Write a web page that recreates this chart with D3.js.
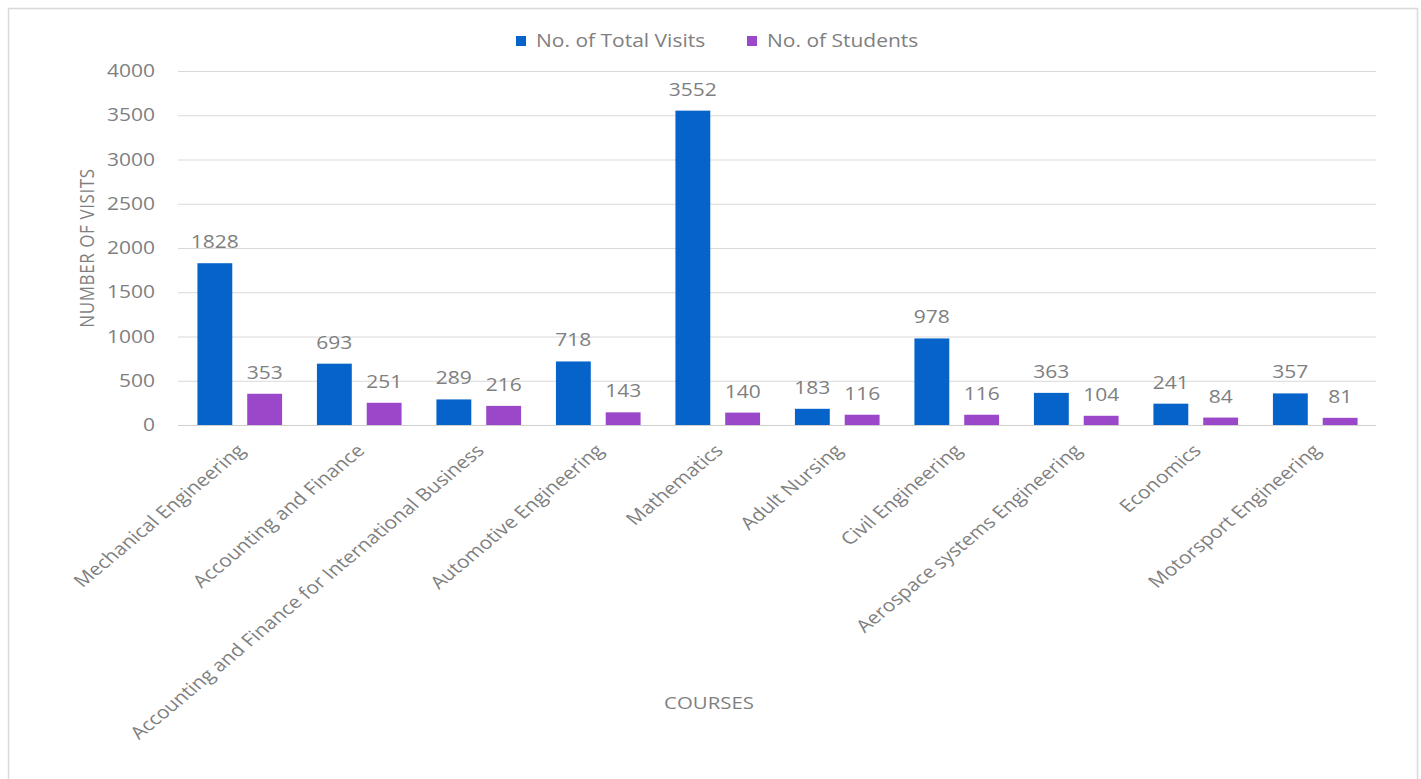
<!DOCTYPE html>
<html>
<head>
<meta charset="utf-8">
<script src="https://cdn.jsdelivr.net/npm/d3@7"></script>
<style>
  html, body { margin: 0; padding: 0; background: #fff; }
  svg { display: block; }
  text { font-family: "Open Sans", "Noto Sans", sans-serif; }
</style>
</head>
<body>
<svg id="chart" width="1421" height="779"></svg>
<script>
// Course names shown along the x axis
const courses = [
  "Mechanical Engineering",
  "Accounting and Finance",
  "Accounting and Finance for International Business",
  "Automotive Engineering",
  "Mathematics",
  "Adult Nursing",
  "Civil Engineering",
  "Aerospace systems Engineering",
  "Economics",
  "Motorsport Engineering"
];

// Series values, one entry per course
const totalVisits = [1828, 693, 289, 718, 3552, 183, 978, 363, 241, 357];
const students    = [353, 251, 216, 143, 140, 116, 116, 104, 84, 81];

const seriesNames = ["No. of Total Visits", "No. of Students"];
const seriesColors = ["#0563c9", "#9a47c9"];

// Y axis ticks
const yTicks = [0, 500, 1000, 1500, 2000, 2500, 3000, 3500, 4000];

const svg = d3.select("#chart");
const plot = { left: 178, right: 1376, top: 71, bottom: 425 };
const TEXT = "#7f7f7f";
const FS = 17.5;     // label font size
const SX = 1.2;      // horizontal widening of the lettering

// Outer frame
svg.append("rect")
  .attr("x", 8.5).attr("y", 8.5)
  .attr("width", 1409).attr("height", 820)
  .attr("fill", "#fff")
  .attr("stroke", "#d9d9d9")
  .attr("stroke-width", 1.5);

const x = d3.scaleBand()
  .domain(courses)
  .range([180, 1375])
  .paddingInner(0).paddingOuter(0);

const xs = d3.scaleBand()
  .domain(seriesNames)
  .range([0, x.bandwidth()])
  .paddingInner(0.3)
  .paddingOuter(0.35);

const y = d3.scaleLinear()
  .domain([0, 4000])
  .range([plot.bottom, plot.top]);

// Gridlines and y tick labels
const yAxis = d3.axisLeft(y)
  .tickValues(yTicks)
  .tickSize(-(plot.right - plot.left))
  .tickPadding(23)
  .tickFormat(d3.format("d"));

const gy = svg.append("g")
  .attr("transform", `translate(${plot.left},0)`)
  .call(yAxis);
gy.select(".domain").remove();
gy.selectAll(".tick line").attr("stroke", "#d9d9d9").attr("stroke-width", 1);
gy.selectAll(".tick text")
  .attr("x", -23 / SX)
  .attr("transform", `scale(${SX},1)`)
  .attr("font-size", FS)
  .attr("font-family", null)
  .attr("fill", TEXT);

// Bars
const rows = courses.map((c, i) => ({ course: c, values: [totalVisits[i], students[i]] }));

const groups = svg.append("g").selectAll("g")
  .data(rows)
  .join("g")
  .attr("transform", d => `translate(${x(d.course)},0)`);

const cells = d => d.values.map((v, k) => ({ series: seriesNames[k], value: v, k }));

groups.selectAll("rect")
  .data(cells)
  .join("rect")
  .attr("x", d => xs(d.series))
  .attr("y", d => y(d.value))
  .attr("width", xs.bandwidth())
  .attr("height", d => y(0) - y(d.value))
  .attr("fill", d => seriesColors[d.k]);

// Value labels above the bars
groups.selectAll("text.val")
  .data(cells)
  .join("text")
  .attr("class", "val")
  .attr("transform", d => `translate(${xs(d.series) + xs.bandwidth() / 2},${y(d.value) - 15}) scale(${SX},1)`)
  .attr("text-anchor", "middle")
  .attr("font-size", FS)
  .attr("fill", TEXT)
  .text(d => d.value);

// Baseline
svg.append("line")
  .attr("x1", plot.left).attr("x2", plot.right)
  .attr("y1", plot.bottom + 0.5).attr("y2", plot.bottom + 0.5)
  .attr("stroke", "#d0d0d0");

// Slanted course labels
svg.append("g").selectAll("text")
  .data(courses)
  .join("text")
  .attr("transform", d => `translate(${x(d) + x.bandwidth() / 2 - 4},${plot.bottom + 18}) scale(${SX},1) rotate(-45)`)
  .attr("text-anchor", "end")
  .attr("dy", "0.71em")
  .attr("font-size", FS)
  .attr("fill", TEXT)
  .text(d => d);

// Axis titles
svg.append("text")
  .attr("transform", `translate(94,${(plot.top + plot.bottom) / 2}) scale(${SX},1) rotate(-90)`)
  .attr("text-anchor", "middle")
  .attr("font-size", 17)
  .attr("letter-spacing", 0.6)
  .attr("fill", TEXT)
  .text("NUMBER OF VISITS");

svg.append("text")
  .attr("transform", `translate(709,709) scale(${SX},1)`)
  .attr("text-anchor", "middle")
  .attr("font-size", 17)
  .attr("fill", TEXT)
  .text("COURSES");

// Legend
const legend = svg.append("g").attr("transform", "translate(516,41)");
const legendOffsets = [0, 231];
seriesNames.forEach((name, i) => {
  const g = legend.append("g").attr("transform", `translate(${legendOffsets[i]},0)`);
  g.append("rect").attr("x", 0).attr("y", -5).attr("width", 10).attr("height", 10).attr("fill", seriesColors[i]);
  g.append("text")
    .attr("transform", `translate(20,0) scale(${SX},1)`)
    .attr("dy", "0.35em")
    .attr("font-size", FS).attr("fill", TEXT).text(name);
});
</script>
</body>
</html>
